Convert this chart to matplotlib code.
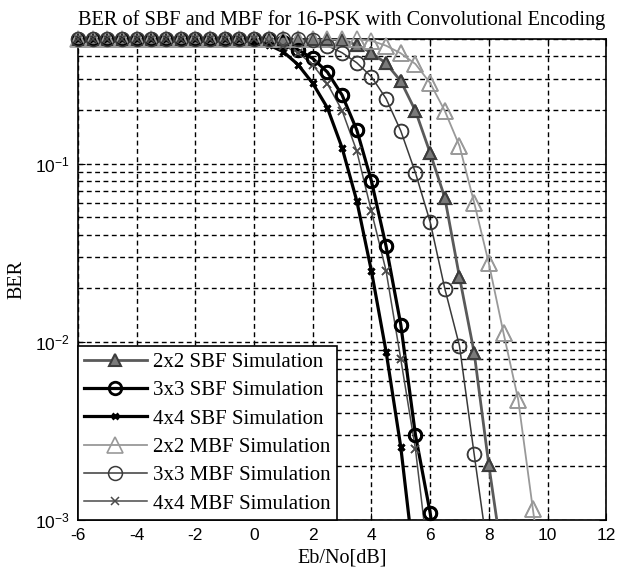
import numpy as np
import matplotlib
matplotlib.use("Agg")
import matplotlib.pyplot as plt
from matplotlib.ticker import FixedLocator, FixedFormatter, NullFormatter

plt.rcParams['mathtext.fontset'] = 'custom'
plt.rcParams['mathtext.rm'] = 'Liberation Sans'
plt.rcParams['mathtext.it'] = 'Liberation Sans'
plt.rcParams['axes.unicode_minus'] = False

# Eb/No grid (dB), every 0.5 dB from -6
snr = [-6, -5.5, -5, -4.5, -4, -3.5, -3, -2.5, -2, -1.5, -1, -0.5, 0, 0.5, 1, 1.5,
       2, 2.5, 3, 3.5, 4, 4.5, 5, 5.5, 6, 6.5, 7, 7.5, 8, 8.5, 9, 9.5, 10]

ber_sbf_2x2 = [0.5] * 18 + [0.495, 0.465, 0.42, 0.366, 0.291, 0.198, 0.115, 0.0645,
                            0.0231, 0.0087, 0.00203, 0.00055]
ber_sbf_3x3 = [0.5] * 14 + [0.48, 0.436, 0.39, 0.327, 0.243, 0.155, 0.08, 0.0344,
                            0.0125, 0.0030, 0.0011, 0.0003]
ber_sbf_4x4 = [0.5] * 12 + [0.49, 0.465, 0.425, 0.36, 0.283, 0.206, 0.123, 0.062,
                            0.025, 0.0088, 0.00257, 0.0005]
ber_mbf_2x2 = [0.5] * 20 + [0.49, 0.46, 0.417, 0.363, 0.284, 0.198, 0.126, 0.0605,
                            0.0276, 0.0112, 0.00474, 0.00115, 0.0003]
ber_mbf_3x3 = [0.5] * 16 + [0.495, 0.46, 0.42, 0.369, 0.308, 0.232, 0.153, 0.089,
                            0.0472, 0.0199, 0.0095, 0.00234, 0.0006]
ber_mbf_4x4 = [0.5] * 12 + [0.5, 0.485, 0.46, 0.42, 0.36, 0.281, 0.199, 0.118,
                            0.054, 0.025, 0.008, 0.0025, 0.0005]

series = [
    ("2x2 SBF Simulation", ber_sbf_2x2,
     dict(color='#5a5a5a', lw=2.0, marker='^', ms=9, mfc='#7a7a7a', mec='#3c3c3c', mew=1.5)),
    ("3x3 SBF Simulation", ber_sbf_3x3,
     dict(color='black', lw=2.3, marker='o', ms=9, mfc='none', mec='black', mew=2.0)),
    ("4x4 SBF Simulation", ber_sbf_4x4,
     dict(color='black', lw=2.3, marker='x', ms=5, mec='black', mew=2.0)),
    ("2x2 MBF Simulation", ber_mbf_2x2,
     dict(color='#999999', lw=1.3, marker='^', ms=11, mfc='none', mec='#999999', mew=1.2)),
    ("3x3 MBF Simulation", ber_mbf_3x3,
     dict(color='#3a3a3a', lw=1.1, marker='o', ms=10, mfc='none', mec='#3a3a3a', mew=1.1)),
    ("4x4 MBF Simulation", ber_mbf_4x4,
     dict(color='#4a4a4a', lw=1.1, marker='x', ms=6, mec='#4a4a4a', mew=1.1)),
]

fig = plt.figure(figsize=(6.18, 5.77), dpi=100)
ax = fig.add_axes([0.126, 0.0988, 0.855, 0.8332])

for label, ber, st in series:
    x = np.array(snr[:len(ber)])
    y = np.array(ber)
    ax.plot(x, y, label=label, zorder=3, **st)
    # markers on the border are not clipped (MATLAB style)
    keep = (y >= 1e-3) & (y <= 0.5)
    st2 = dict(st)
    st2['lw'] = 0
    ax.plot(x[keep], y[keep], clip_on=False, zorder=4, **st2)

ax.set_yscale('log')
ax.set_xlim(-6, 12)
ax.set_ylim(1e-3, 0.5)
ax.set_xticks(np.arange(-6, 13, 2))
ax.yaxis.set_major_locator(FixedLocator([1e-3, 1e-2, 1e-1]))
ax.yaxis.set_major_formatter(FixedFormatter([r'$\mathregular{10^{-3}}$',
                                             r'$\mathregular{10^{-2}}$',
                                             r'$\mathregular{10^{-1}}$']))
minors = [m * 10.0 ** e for e in (-3, -2, -1) for m in range(2, 10) if m * 10.0 ** e <= 0.5]
ax.yaxis.set_minor_locator(FixedLocator(minors))
ax.yaxis.set_minor_formatter(NullFormatter())

ax.grid(True, which='major', color='black', linestyle=(0, (3.5, 2.5)), lw=1.0)
ax.grid(True, which='minor', axis='y', color='black', linestyle=(0, (3.5, 2.5)), lw=1.0)
ax.tick_params(which='both', direction='in', top=True, right=True, labelsize=12.5,
               pad=6)
ax.tick_params(which='major', length=5)
ax.tick_params(which='minor', length=3)
for lab in ax.get_xticklabels() + ax.get_yticklabels():
    lab.set_family('Liberation Sans')
for sp in ax.spines.values():
    sp.set_linewidth(1.2)

ax.set_title('BER of SBF and MBF for 16-PSK with Convolutional Encoding',
             family='Liberation Serif', fontsize=14.6, pad=10)
ax.set_xlabel('Eb/No[dB]', family='Liberation Serif', fontsize=14.5, labelpad=4)
ax.set_ylabel('BER', family='Liberation Serif', fontsize=14.5, labelpad=6)

leg = ax.legend(loc='lower left', prop={'family': 'Liberation Serif', 'size': 15},
                handlelength=3.0, borderaxespad=0, fancybox=False, framealpha=1,
                edgecolor='black', labelspacing=0.42, handletextpad=0.3,
                borderpad=0.3)
leg.get_frame().set_linewidth(1.2)

fig.savefig('out.png', dpi=100)
